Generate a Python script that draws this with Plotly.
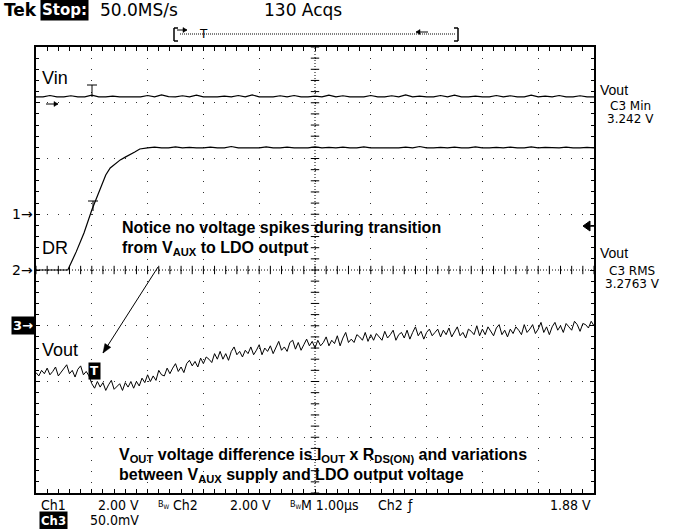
import numpy as np
import plotly.graph_objects as go

# ---------------- figure geometry (pixels) ----------------
W, H = 696, 529
L, R, T, B = 36, 594, 47, 493


def fx(x):
    return (x - L) / (R - L)


def fy(y):
    return (B - y) / (B - T)


# ---------------- channel settings ----------------
ch1_scale, ch1_pos = 2.0, 1.0            # V/div, div
ch2_scale, ch2_pos = 2.0, 0.0
ch3_scale_mv, ch3_offset_mv, ch3_pos = 50.0, 3300.0, -1.0

# ---------------- data (time in µs, trigger at 0) ----------------
vin_t = [-1 + i * 0.125 for i in range(81)]
vin_v = [4.21, 4.21, 4.26, 4.21, 4.21, 4.25, 4.21, 4.21, 4.27, 4.21,
         4.21, 4.24, 4.21, 4.21, 4.21, 4.21, 4.26, 4.21, 4.28, 4.22,
         4.21, 4.25, 4.21, 4.27, 4.21, 4.21, 4.21, 4.24, 4.21, 4.26,
         4.21, 4.28, 4.21, 4.21, 4.21, 4.25, 4.21, 4.26, 4.21, 4.21,
         4.24, 4.21, 4.27, 4.21, 4.25, 4.21, 4.21, 4.21, 4.26, 4.21,
         4.21, 4.25, 4.21, 4.28, 4.21, 4.24, 4.21, 4.21, 4.26, 4.21,
         4.27, 4.21, 4.21, 4.24, 4.21, 4.21, 4.26, 4.21, 4.25, 4.21,
         4.21, 4.27, 4.21, 4.24, 4.21, 4.26, 4.21, 4.21, 4.25, 4.21,
         4.21]

dr_ramp_t = [-1.0, -0.43, -0.28, -0.14, 0.0, 0.15, 0.25, 0.33, 0.42, 0.51,
             0.60, 0.69, 0.77, 0.86, 0.95]
dr_ramp_v = [0.0, 0.0, 0.65, 1.33, 2.15, 2.94, 3.41, 3.66, 3.80, 3.95,
             4.05, 4.13, 4.23, 4.34, 4.38]
dr_flat_t = [1.0 + i * 0.125 for i in range(65)]
dr_flat_v = [4.38, 4.41, 4.38, 4.38, 4.42, 4.38, 4.40, 4.38, 4.38, 4.41,
             4.38, 4.38, 4.43, 4.38, 4.38, 4.40, 4.38, 4.42, 4.38, 4.38,
             4.41, 4.38, 4.38, 4.38, 4.42, 4.38, 4.40, 4.38, 4.41, 4.38,
             4.38, 4.42, 4.38, 4.38, 4.40, 4.38, 4.38, 4.41, 4.38, 4.43,
             4.38, 4.38, 4.40, 4.38, 4.41, 4.38, 4.38, 4.42, 4.38, 4.38,
             4.40, 4.38, 4.41, 4.38, 4.38, 4.42, 4.38, 4.40, 4.38, 4.38,
             4.41, 4.38, 4.38, 4.40, 4.38]

vout_t = [-1 + i * 0.05 for i in range(201)]
vout_mv = [3258, 3255, 3260, 3257, 3262, 3256, 3259, 3263, 3255, 3258,
           3261, 3265, 3257, 3260, 3254, 3261, 3264, 3256, 3259, 3255,
           3248,
           3244, 3250, 3245, 3249, 3242, 3247, 3251, 3243, 3246, 3248,
           3242, 3249, 3245, 3250, 3244,
           3250, 3246, 3253, 3249, 3256, 3250,
           3255, 3251, 3260, 3256, 3255, 3262, 3257, 3262, 3266, 3259,
           3263, 3258, 3266, 3269, 3264, 3268, 3263, 3271,
           3266, 3272, 3270, 3267, 3275, 3270, 3277, 3270, 3275, 3269,
           3277, 3281, 3274, 3277,
           3272, 3278, 3275, 3281, 3274, 3278, 3283, 3274, 3280, 3277,
           3282, 3275, 3281, 3286, 3278, 3281, 3277, 3285, 3287, 3279,
           3285, 3278, 3283, 3288, 3282, 3286, 3280,
           3287, 3282, 3285, 3290, 3282, 3287, 3284, 3291, 3282, 3289,
           3294, 3285, 3288, 3285, 3292, 3290, 3287, 3294, 3286, 3292,
           3287, 3293, 3290, 3287, 3295, 3289, 3292, 3296, 3287, 3292,
           3294, 3289, 3296, 3288, 3294, 3299, 3291, 3295, 3288, 3294,
           3297, 3291, 3294, 3297, 3290,
           3296, 3292, 3298, 3290, 3295, 3299, 3291, 3294, 3289, 3297,
           3295, 3292, 3300, 3291, 3297, 3292, 3299, 3295, 3291, 3298,
           3301, 3292, 3296, 3290, 3297,
           3293, 3299, 3296, 3292, 3301, 3294, 3297,
           3301, 3293, 3297, 3303, 3294, 3299, 3292,
           3299, 3303, 3296, 3300, 3294, 3302,
           3299, 3296, 3304, 3301, 3295, 3302,
           3301, 3298, 3304, 3300]

# ---------------- traces ----------------
fig = go.Figure()
LINE = dict(color="black", width=1.2)

fig.add_trace(go.Scatter(x=vin_t, y=[ch1_pos + v / ch1_scale for v in vin_v],
                         mode="lines", line=LINE, hoverinfo="skip"))
dr_t = dr_ramp_t + dr_flat_t
dr_v = dr_ramp_v + dr_flat_v
fig.add_trace(go.Scatter(x=dr_t, y=[ch2_pos + v / ch2_scale for v in dr_v],
                         mode="lines", line=LINE, hoverinfo="skip"))
fig.add_trace(go.Scatter(x=vout_t,
                         y=[ch3_pos + (m - ch3_offset_mv) / ch3_scale_mv for m in vout_mv],
                         mode="lines", line=dict(color="black", width=1), hoverinfo="skip"))

# graticule centre-line ticks
sub_x = np.arange(-1, 9.0001, 0.2)
sub_y = np.arange(-4, 4.0001, 0.2)
fig.add_trace(go.Scatter(x=sub_x, y=np.zeros_like(sub_x), mode="markers",
                         marker=dict(symbol="line-ns", size=6, line=dict(color="black", width=1)),
                         hoverinfo="skip"))
fig.add_trace(go.Scatter(x=np.full_like(sub_y, 4.0), y=sub_y, mode="markers",
                         marker=dict(symbol="line-ew", size=6, line=dict(color="black", width=1)),
                         hoverinfo="skip"))

# ---------------- shapes ----------------
shapes = []


def seg(x0, y0, x1, y1, w=1.0, dash="solid"):
    shapes.append(dict(type="line", xref="paper", yref="paper",
                       x0=fx(x0), y0=fy(y0), x1=fx(x1), y1=fy(y1),
                       line=dict(color="black", width=w, dash=dash)))


def arrow_shape(hx, hy, tx, ty, hl=5, hw=3, w=1.0):
    seg(tx, ty, hx, hy, w)
    v = np.array([hx - tx, hy - ty], dtype=float)
    v /= np.hypot(*v)
    n = np.array([-v[1], v[0]])
    b = np.array([hx, hy]) - v * hl
    p1 = b + n * hw
    p2 = b - n * hw
    shapes.append(dict(type="path", xref="paper", yref="paper",
                       path="M {} {} L {} {} L {} {} Z".format(fx(hx), fy(hy), fx(p1[0]), fy(p1[1]),
                                                               fx(p2[0]), fy(p2[1])),
                       fillcolor="black", line=dict(color="black", width=0.5)))


# centre crosshair (dense dotted)
shapes.append(dict(type="line", xref="x", yref="y", x0=-1, x1=9, y0=0, y1=0,
                   line=dict(color="black", width=1, dash="1px,2px"), layer="below"))
shapes.append(dict(type="line", xref="x", yref="y", x0=4, x1=4, y0=-4, y1=4,
                   line=dict(color="black", width=1, dash="1px,2px"), layer="below"))

# trigger markers
seg(87, 85, 97, 85)          # Vin I-beam
seg(92, 85, 92, 97)
seg(88, 201, 98, 201)        # DR T
seg(93, 201, 93, 211)

# top record bracket
seg(174, 28, 174, 41, 1.5)
seg(174, 28, 178, 28, 1.5)
seg(174, 41, 178, 41, 1.5)
seg(458, 28, 458, 41, 1.5)
seg(454, 28, 458, 28, 1.5)
seg(454, 41, 458, 41, 1.5)
seg(180, 34, 456, 34, 1, "1px,1px")
arrow_shape(187, 30, 177, 30, hl=4, hw=2.5)
arrow_shape(416, 32, 428, 32, hl=4, hw=2.5)

# right-edge trigger level marker
shapes.append(dict(type="path", xref="paper", yref="paper",
                   path="M {} {} L {} {} L {} {} Z".format(fx(583), fy(226), fx(590), fy(221),
                                                           fx(590), fy(231)),
                   fillcolor="black", line=dict(color="black", width=1)))
seg(589, 226, 594, 226, 1.5)

# small channel-1 arrow inside graticule
arrow_shape(58, 104, 46, 104, hl=4, hw=2.5)

# callout arrow
arrow_shape(103, 353, 158, 267, hl=9, hw=3.5, w=1.0)

# ---------------- annotations ----------------
ann = []
DJ = "DejaVu Sans"
DJC = "DejaVu Sans Condensed, DejaVu Sans"
LIB = "Liberation Sans, Arial"


def txt(x, y, s, size, family, xanchor="left", color="black", bg=None):
    d = dict(x=fx(x), y=fy(y), xref="paper", yref="paper", text=s, showarrow=False,
             xanchor=xanchor, yanchor="middle",
             font=dict(size=size, family=family, color=color), borderpad=1)
    if bg:
        d["bgcolor"] = bg
    ann.append(d)


# header
txt(2, 10, "<b>Tek</b>", 17, DJ)
txt(40, 10, "<b>Stop:</b>", 15, DJ, color="white", bg="black")
txt(98, 10, "50.0MS/s", 17, DJ)
txt(262, 10, "130 Acqs", 17, DJ)
txt(203, 34, "T", 12, DJ, xanchor="center")

# trace labels
txt(40, 78, "Vin", 18, LIB)
txt(40, 248, "DR", 18, LIB)
txt(40, 350, "Vout", 18, LIB)

# channel ground markers
txt(35, 214, "1→", 14, DJ, xanchor="right")
txt(35, 270, "2→", 14, DJ, xanchor="right")
txt(35, 326, "<b>3→</b>", 13, DJ, xanchor="right", color="white", bg="black")

# Vout trigger T (inverse)
txt(94, 371, "<b>T</b>", 12, DJ, xanchor="center", color="white", bg="black")

# notes
NB = 16
txt(120, 228, "<b>Notice no voltage spikes during transition</b>", NB, LIB)
txt(120, 248, "<b>from V<sub>AUX</sub> to LDO output</b>", NB, LIB)
txt(117, 455, "<b>V<sub>OUT</sub> voltage difference is I<sub>OUT</sub> x "
              "R<sub>DS(ON)</sub> and variations</b>", NB, LIB)
txt(117, 475, "<b>between V<sub>AUX</sub> supply and LDO output voltage</b>", NB, LIB)

# right measurement panel
txt(598, 90, "Vout", 14, LIB)
txt(630, 106, "C3 Min", 12, DJ, xanchor="center")
txt(630, 119, "3.242 V", 12, DJ, xanchor="center")
txt(598, 253, "Vout", 14, LIB)
txt(632, 271, "C3 RMS", 12, DJ, xanchor="center")
txt(632, 284, "3.2763 V", 12, DJ, xanchor="center")

# bottom status line
SB = 14
txt(39, 505, "Ch1", SB, DJC)
txt(96, 505, "2.00 V", SB, DJC)
txt(156, 504, "B<sub>W</sub>", 9, DJC)
txt(171, 505, "Ch2", SB, DJC)
txt(228, 505, "2.00 V", SB, DJC)
txt(288, 504, "B<sub>W</sub>", 9, DJC)
txt(299, 505, "M 1.00µs", SB, DJC)
txt(376, 505, "Ch2", SB, DJC)
txt(405, 505, "ƒ", SB, DJC)
txt(593, 505, "1.88 V", SB, DJC, xanchor="right")
txt(39, 520, "<b>Ch3</b>", 13, DJC, color="white", bg="black")
txt(88, 520, "50.0mV", SB, DJC)

# ---------------- layout ----------------
axis_common = dict(showline=True, linecolor="black", linewidth=2, mirror="allticks",
                   showgrid=True, gridcolor="#333333", gridwidth=1, griddash="1px,10.15px",
                   zeroline=False, showticklabels=False, ticks="inside", ticklen=4,
                   tickcolor="black", tickwidth=1, dtick=1, fixedrange=True)

fig.update_layout(
    width=W, height=H, autosize=False,
    margin=dict(l=L, r=W - R, t=T, b=H - B, pad=0),
    paper_bgcolor="white", plot_bgcolor="white",
    showlegend=False,
    xaxis=dict(range=[-1, 9], tick0=-1,
               minor=dict(dtick=0.2, ticks="inside", ticklen=4, tickcolor="black", showgrid=False),
               **axis_common),
    yaxis=dict(range=[-4, 4], tick0=-4,
               minor=dict(dtick=0.2, ticks="inside", ticklen=3, tickcolor="black", showgrid=False),
               **axis_common),
    shapes=shapes,
    annotations=ann,
)

fig.write_html("out.html", config={"displayModeBar": False})
